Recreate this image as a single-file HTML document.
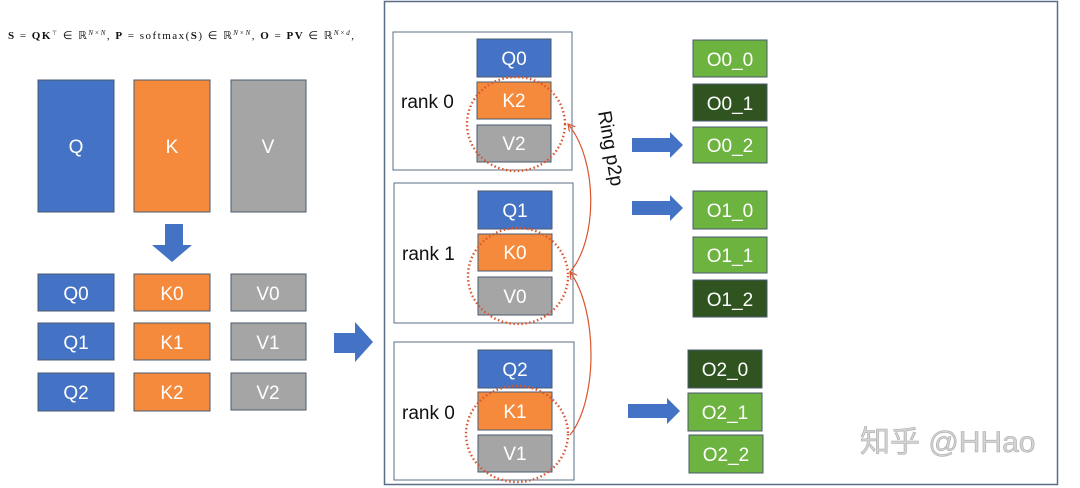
<!DOCTYPE html>
<html><head><meta charset="utf-8"><style>
html,body{margin:0;padding:0;background:#fff;}
svg{display:block;}
.s{font-family:"Liberation Sans","Noto Sans CJK SC",sans-serif;}
.f{font-family:"Liberation Serif",serif;}
</style></head><body>
<svg width="1080" height="488" viewBox="0 0 1080 488" xmlns="http://www.w3.org/2000/svg">
<defs>
<marker id="ah" markerWidth="8" markerHeight="8" refX="7" refY="4" orient="auto" markerUnits="userSpaceOnUse">
<path d="M0,0 L7,4 L0,8" fill="none" stroke="#d9552f" stroke-width="1.2"/></marker>
</defs>
<rect width="1080" height="488" fill="#fff"/>
<text class="f" x="8" y="39" font-size="11" fill="#111" textLength="346" lengthAdjust="spacing"><tspan font-weight="bold">S</tspan> = <tspan font-weight="bold">QK</tspan><tspan font-size="6" dy="-4">⊤</tspan><tspan dy="4"> ∈ ℝ</tspan><tspan font-size="7" dy="-4" font-style="italic">N×N</tspan><tspan dy="4">,     </tspan><tspan font-weight="bold">P</tspan> = softmax(<tspan font-weight="bold">S</tspan>) ∈ ℝ<tspan font-size="7" dy="-4" font-style="italic">N×N</tspan><tspan dy="4">,     </tspan><tspan font-weight="bold">O</tspan> = <tspan font-weight="bold">PV</tspan> ∈ ℝ<tspan font-size="7" dy="-4" font-style="italic">N×d</tspan><tspan dy="4">,</tspan></text>

<rect x="384.5" y="1.5" width="673" height="483" fill="none" stroke="#5a6f86" stroke-width="1.5"/>

<g stroke="#4a5a70" stroke-width="1">
<rect x="38" y="80" width="76" height="132" fill="#4472c4"/>
<rect x="134" y="80" width="76" height="132" fill="#f58a3c"/>
<rect x="231" y="80" width="75" height="132" fill="#a5a5a5"/>
</g>
<g class="s" fill="#fff" font-size="19" text-anchor="middle">
<text x="76" y="153">Q</text><text x="172" y="153">K</text><text x="268" y="153">V</text>
</g>
<path d="M165,224 H183 V245 H192 L172,262 L152,245 H165 Z" fill="#4472c4"/>
<path d="M334,333 H355 V322 L373,342 L355,362 V353 H334 Z" fill="#4472c4"/>

<g stroke="#4a5a70" stroke-width="1">
<rect x="38" y="274" width="76" height="37" fill="#4472c4"/>
<rect x="38" y="323" width="76" height="37" fill="#4472c4"/>
<rect x="38" y="373" width="76" height="38" fill="#4472c4"/>
<rect x="134" y="274" width="76" height="37" fill="#f58a3c"/>
<rect x="134" y="323" width="76" height="37" fill="#f58a3c"/>
<rect x="134" y="373" width="76" height="38" fill="#f58a3c"/>
<rect x="231" y="274" width="75" height="37" fill="#a5a5a5"/>
<rect x="231" y="323" width="75" height="37" fill="#a5a5a5"/>
<rect x="231" y="373" width="75" height="37" fill="#a5a5a5"/>
</g>
<g class="s" fill="#fff" font-size="19" text-anchor="middle">
<text x="76" y="300">Q0</text><text x="76" y="349">Q1</text><text x="76" y="399">Q2</text>
<text x="172" y="300">K0</text><text x="172" y="349">K1</text><text x="172" y="399">K2</text>
<text x="268" y="300">V0</text><text x="268" y="349">V1</text><text x="268" y="399">V2</text>
</g>

<g fill="none" stroke="#5a6f86" stroke-width="1">
<rect x="393" y="32" width="179" height="138"/>
<rect x="394" y="183" width="179" height="140"/>
<rect x="394" y="342" width="180" height="138"/>
</g>
<g class="s" font-size="19" fill="#111">
<text x="401" y="108">rank 0</text>
<text x="402" y="260">rank 1</text>
<text x="402" y="419">rank 0</text>
</g>
<g stroke="#4a5a70" stroke-width="1">
<rect x="477" y="39" width="74" height="38" fill="#4472c4"/>
<rect x="477" y="82" width="74" height="37" fill="#f58a3c"/>
<rect x="477" y="125" width="74" height="37" fill="#a5a5a5"/>
<rect x="478" y="191" width="74" height="38" fill="#4472c4"/>
<rect x="478" y="234" width="74" height="37" fill="#f58a3c"/>
<rect x="478" y="277" width="74" height="38" fill="#a5a5a5"/>
<rect x="478" y="350" width="74" height="38" fill="#4472c4"/>
<rect x="478" y="392" width="74" height="38" fill="#f58a3c"/>
<rect x="478" y="435" width="74" height="37" fill="#a5a5a5"/>
</g>
<g class="s" fill="#fff" font-size="19" text-anchor="middle">
<text x="514" y="65">Q0</text><text x="514" y="107">K2</text><text x="514" y="150">V2</text>
<text x="515" y="217">Q1</text><text x="515" y="259">K0</text><text x="515" y="303">V0</text>
<text x="515" y="376">Q2</text><text x="515" y="418">K1</text><text x="515" y="460">V1</text>
</g>
<g fill="none" stroke="#d9552f" stroke-width="2.4" stroke-dasharray="1.5 2.5">
<ellipse cx="516" cy="124" rx="49" ry="47"/>
<ellipse cx="518" cy="276" rx="50" ry="48"/>
<ellipse cx="517" cy="434" rx="51" ry="48"/>
</g>
<g fill="none" stroke="#d9552f" stroke-width="1.2">
<path d="M570,272 C598,240 598,160 568,124" marker-end="url(#ah)"/>
<path d="M570,435 C598,400 598,310 570,272" marker-end="url(#ah)"/>
</g>
<text class="s" transform="translate(598,112) rotate(80)" font-size="19" fill="#111">Ring p2p</text>

<g fill="#4472c4">
<path d="M632,138 H670 V132 L683,145 L670,158 V152 H632 Z"/>
<path d="M632,201 H670 V195 L683,208 L670,221 V215 H632 Z"/>
<path d="M628,404 H667 V398 L680,411 L667,424 V418 H628 Z"/>
</g>

<g stroke="#4a5a70" stroke-width="1">
<rect x="693" y="40" width="74" height="37" fill="#6db33f"/>
<rect x="693" y="84" width="74" height="37" fill="#2f5420"/>
<rect x="693" y="127" width="74" height="36" fill="#6db33f"/>
<rect x="693" y="191" width="74" height="38" fill="#6db33f"/>
<rect x="693" y="237" width="74" height="36" fill="#6db33f"/>
<rect x="693" y="280" width="74" height="37" fill="#2f5420"/>
<rect x="688" y="350" width="74" height="38" fill="#2f5420"/>
<rect x="688" y="393" width="74" height="38" fill="#6db33f"/>
<rect x="689" y="435" width="74" height="38" fill="#6db33f"/>
</g>
<g class="s" fill="#fff" font-size="19" text-anchor="middle">
<text x="730" y="66">O0_0</text><text x="730" y="110">O0_1</text><text x="730" y="152">O0_2</text>
<text x="730" y="217">O1_0</text><text x="730" y="262">O1_1</text><text x="730" y="306">O1_2</text>
<text x="725" y="376">O2_0</text><text x="725" y="419">O2_1</text><text x="726" y="461">O2_2</text>
</g>
<text class="s" x="860" y="452" font-size="30" fill="#d4d4d4" stroke="#aaa" stroke-width="0.6">知乎 @HHao</text>
</svg>
</body></html>
